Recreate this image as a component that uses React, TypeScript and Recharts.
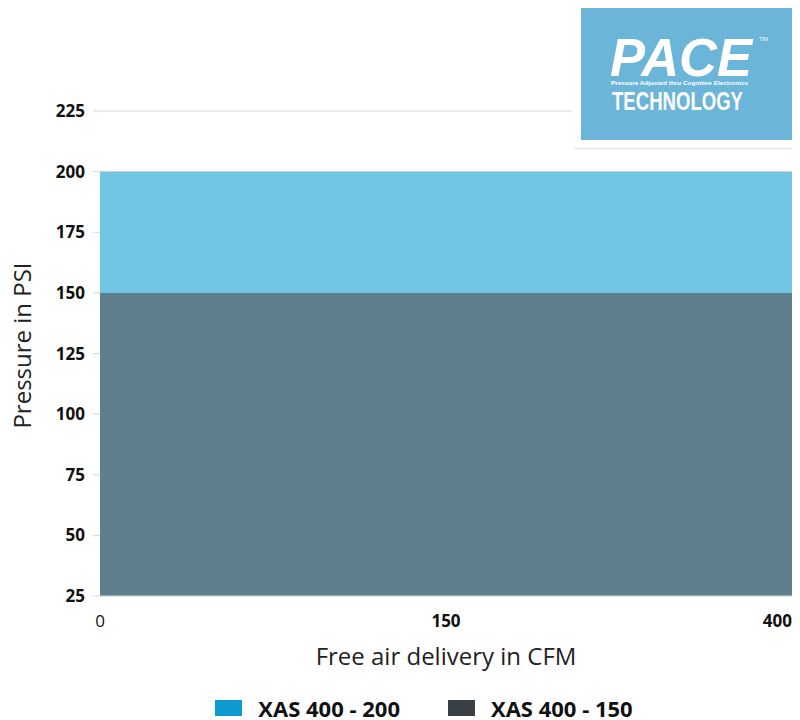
import React from "react";
import {
  AreaChart,
  Area,
  XAxis,
  YAxis,
  CartesianGrid,
  Legend,
} from "recharts";

const cfmCategories = ["0", "150", "400"];
const xas400_200 = [200, 200, 200];
const xas400_150 = [150, 150, 150];
const yTicks = [25, 50, 75, 100, 125, 150, 175, 200, 225];

const seriesNames = ["XAS 400 - 200", "XAS 400 - 150"];
const legendColors = ["#0E9BD1", "#3B4045"];

const data = cfmCategories.map((c, i) => ({
  cfm: c,
  s200: xas400_200[i],
  s150: xas400_150[i],
}));

const FONT = "'Open Sans', 'Noto Sans', sans-serif";

const XTick = (props: any) => {
  const { x, y, payload, index } = props;
  const last = index === cfmCategories.length - 1;
  return (
    <text
      x={x}
      y={y}
      dy="0.71em"
      textAnchor={last ? "end" : "middle"}
      fontFamily={FONT}
      fontSize={17}
      fontWeight={index === 0 ? 400 : 700}
      fill="#111"
    >
      {payload.value}
    </text>
  );
};

const LegendContent = () => (
  <div
    style={{
      display: "flex",
      justifyContent: "center",
      alignItems: "center",
      height: 30,
      fontFamily: FONT,
      fontWeight: 700,
      fontSize: 22,
      lineHeight: "22px",
      color: "#111",
      position: "relative",
      top: 3,
      left: 24,
      whiteSpace: "nowrap",
    }}
  >
    {seriesNames.map((n, i) => (
      <div
        key={n}
        style={{
          display: "flex",
          alignItems: "center",
          marginLeft: i === 0 ? 0 : 48,
        }}
      >
        <span
          style={{
            display: "inline-block",
            width: 27,
            height: 16,
            background: legendColors[i],
            marginRight: 16,
          }}
        />
        <span>{n}</span>
      </div>
    ))}
  </div>
);

const Logo = () => (
  <svg
    width={228}
    height={152}
    style={{ position: "absolute", left: 564, top: -8 }}
  >
    <rect x={0} y={0} width={228} height={152} fill="#ffffff" />
    <line x1={2} x2={228} y1={148.5} y2={148.5} stroke="#ececec" strokeWidth={2} />
    <rect x={9} y={8} width={219} height={132} fill="#6BB5D9" />
    <text
      x={38}
      y={76}
      fill="#ffffff"
      fontFamily="'Liberation Sans', Arial, sans-serif"
      fontWeight={700}
      fontStyle="italic"
      fontSize={54}
      textLength={142}
      lengthAdjust="spacingAndGlyphs"
    >
      PACE
    </text>
    <text x={187} y={41} fill="#ffffff" fontFamily="'Liberation Sans', sans-serif" fontSize={6}>
      TM
    </text>
    <text
      x={39}
      y={84.5}
      fill="#ffffff"
      fontFamily="'Liberation Sans', sans-serif"
      fontSize={5}
      fontWeight={700}
      textLength={137}
      lengthAdjust="spacingAndGlyphs"
    >
      Pressure Adjusted thru Cognitive Electronics
    </text>
    <text
      x={40}
      y={110}
      fill="#ffffff"
      fontFamily="'Liberation Sans Narrow', 'Liberation Sans', sans-serif"
      fontWeight={700}
      fontSize={26}
      textLength={131}
      lengthAdjust="spacingAndGlyphs"
    >
      TECHNOLOGY
    </text>
  </svg>
);

export default function App() {
  return (
    <div style={{ position: "relative", width: 792, height: 712 }}>
      <AreaChart
        width={792}
        height={712}
        data={data}
        margin={{ top: 103, right: 8, bottom: 0, left: 0 }}
      >
        <CartesianGrid vertical={false} stroke="#d6d6d6" strokeWidth={1} />
        <XAxis
          dataKey="cfm"
          height={94}
          tick={<XTick />}
          tickLine={false}
          tickSize={0}
          tickMargin={19}
          axisLine={{ stroke: "#d6d6d6" }}
          interval={0}
          label={{
            value: "Free air delivery in CFM",
            position: "insideTop",
            offset: 52,
            fontFamily: FONT,
            fontSize: 24,
            fill: "#222",
          }}
        />
        <YAxis
          type="number"
          domain={[25, 225]}
          ticks={yTicks}
          interval={0}
          width={92}
          axisLine={false}
          tickLine={{ stroke: "#d6d6d6" }}
          tickSize={7}
          tickMargin={8}
          tick={{ fontFamily: FONT, fontSize: 17, fontWeight: 700, fill: "#111" }}
          label={{
            value: "Pressure in PSI",
            angle: -90,
            position: "insideLeft",
            offset: 14,
            dy: -8,
            fontFamily: FONT,
            fontSize: 24,
            fill: "#222",
            style: { textAnchor: "middle" },
          }}
        />
        <Legend verticalAlign="bottom" content={<LegendContent />} />
        <Area
          type="linear"
          dataKey="s200"
          name={seriesNames[0]}
          baseValue={25}
          stroke="none"
          fill="#6CC3E2"
          fillOpacity={0.95}
          isAnimationActive={false}
          dot={false}
          activeDot={false}
        />
        <Area
          type="linear"
          dataKey="s150"
          name={seriesNames[1]}
          baseValue={25}
          stroke="none"
          fill="#5C7B87"
          fillOpacity={0.94}
          isAnimationActive={false}
          dot={false}
          activeDot={false}
        />
      </AreaChart>
      <Logo />
    </div>
  );
}
